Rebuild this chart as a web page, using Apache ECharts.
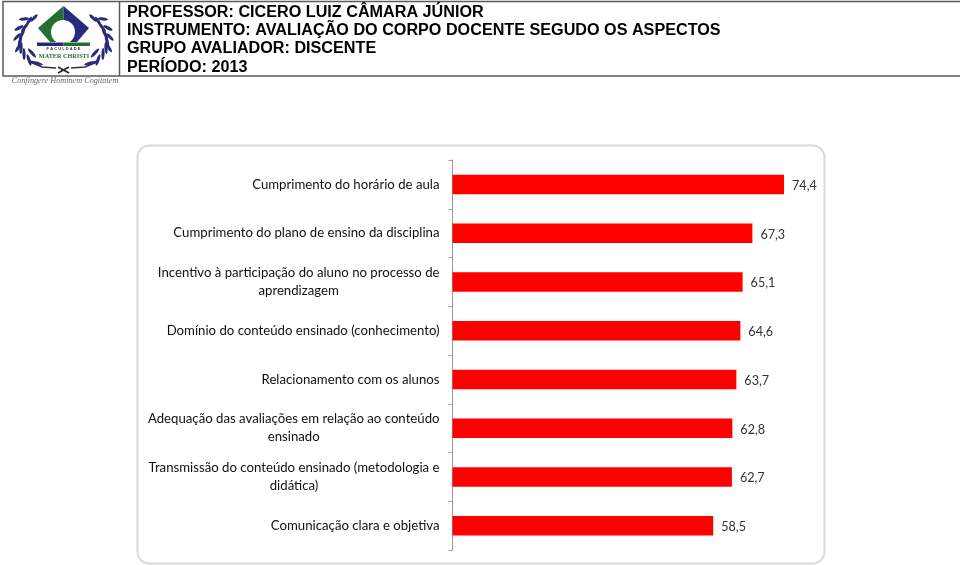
<!DOCTYPE html>
<html><head><meta charset="utf-8">
<style>html,body{margin:0;padding:0;background:#fff}#c{width:960px;height:565px}</style>
<script src="https://cdn.jsdelivr.net/npm/echarts@6/dist/echarts.min.js"></script>
</head><body><div id="c"></div>
<script>
const categories = [
  "Cumprimento do horário de aula",
  "Cumprimento do plano de ensino da disciplina",
  "Incentivo à participação do aluno no processo de\naprendizagem",
  "Domínio do conteúdo ensinado (conhecimento)",
  "Relacionamento com os alunos",
  "Adequação das avaliações em relação ao conteúdo\nensinado",
  "Transmissão do conteúdo ensinado (metodologia e\ndidática)",
  "Comunicação clara e objetiva"
];
const values = [74.4, 67.3, 65.1, 64.6, 63.7, 62.8, 62.7, 58.5];
const headerLines = [
  "PROFESSOR: CICERO LUIZ CÂMARA JÚNIOR",
  "INSTRUMENTO: AVALIAÇÃO DO CORPO DOCENTE SEGUDO OS ASPECTOS",
  "GRUPO AVALIADOR: DISCENTE",
  "PERÍODO: 2013"
];
const headerTop = [12.5, 30.5, 49, 68];
const navy = "#2a2a7c", green = "#23702f";
function leaf(x, y, r, rot) {
  return {type:"ellipse", shape:{cx:0, cy:0, rx:r, ry:1.6}, x:x, y:y, rotation:rot, style:{fill:navy}};
}
const leaves = [];
const L = [
  [34,18,0.8,5],[29,21,1.0,5],[25,27,0.9,6],[22,34,1.1,6],[20,41,1.3,6],[21,48,1.5,6],[24,54,1.6,6],[29,60,1.9,6],
  [24,19,0.1,5],[19,28,0.5,5],[17,37,0.8,5],[18,48,1.0,5],[32,53,2.3,6],[36,63,2.9,7]
];
L.forEach(p => {
  leaves.push(leaf(p[0], p[1], p[3], p[2]));
  leaves.push(leaf(127 - p[0], p[1], p[3], -p[2]));
});
const logo = [
  ...leaves,
  {type:"polygon", shape:{points:[[63.5,6],[38,28],[50,42],[63.5,42]]}, style:{fill:green}},
  {type:"polygon", shape:{points:[[63.5,6],[89,28],[77,42],[63.5,42]]}, style:{fill:navy}},
  {type:"circle", shape:{cx:63,cy:32,r:12}, style:{fill:"#fff"}},
  {type:"rect", shape:{x:37,y:42.5,width:26.5,height:3.5}, style:{fill:navy}},
  {type:"rect", shape:{x:63.5,y:42.5,width:26.5,height:3.5}, style:{fill:green}},
  {type:"text", style:{x:63.5,y:49,text:"F A C U L D A D E",fill:"#333",font:"bold 4px 'Liberation Sans'",align:"center",verticalAlign:"middle"}},
  {type:"rect", shape:{x:38,y:52,width:52,height:9}, style:{fill:"#fff"}},
  {type:"text", style:{x:64,y:56.5,text:"MATER CHRISTI",fill:green,font:"bold 6.2px 'Liberation Serif'",align:"center",verticalAlign:"middle"}},
  {type:"polyline", shape:{points:[[30,62],[42,67],[56,68]]}, style:{stroke:navy,lineWidth:1.6,fill:null}},
  {type:"polyline", shape:{points:[[97,62],[85,67],[71,68]]}, style:{stroke:navy,lineWidth:1.6,fill:null}},
  {type:"line", shape:{x1:58,y1:73,x2:69,y2:67}, style:{stroke:"#222",lineWidth:1.5}},
  {type:"line", shape:{x1:58,y1:67,x2:69,y2:73}, style:{stroke:"#222",lineWidth:1.5}},
  {type:"text", style:{x:65,y:81,text:"Confingere Hominem Cogitatem",fill:"#666",font:"italic 8.2px 'Liberation Serif'",align:"center",verticalAlign:"middle"}}
];
const chart = echarts.init(document.getElementById("c"), null, {renderer:"canvas"});
chart.setOption({
  animation:false,
  backgroundColor:"#fff",
  graphic:{elements:[
    {type:"rect", z:-1, shape:{x:137.5,y:145.5,width:687,height:418,r:12}, style:{fill:"#fff",stroke:"#d9d9d9",lineWidth:2}},
    {type:"rect", shape:{x:3,y:1.5,width:958,height:74.5}, style:{fill:"#fff",stroke:"#5a5a5a",lineWidth:1.5}},
    {type:"line", shape:{x1:119.5,y1:1.5,x2:119.5,y2:76}, style:{stroke:"#5a5a5a",lineWidth:1.5}},
    ...logo,
    ...headerLines.map((t,i)=>({type:"text", style:{x:127,y:headerTop[i],text:t,fill:"#000",font:"bold 16.18px 'Liberation Sans'",verticalAlign:"middle"}}))
  ]},
  grid:{left:452.5, top:160, width:356.5, height:390, containLabel:false},
  xAxis:{type:"value", min:0, max:80, show:false},
  yAxis:{type:"category", inverse:true, data:categories,
    axisLine:{show:true,lineStyle:{color:"#9a9a9a",width:1}},
    axisTick:{show:true,length:4,lineStyle:{color:"#9a9a9a"}},
    axisLabel:{margin:13, fontFamily:"Lato", fontSize:13.2, color:"#111", lineHeight:18,
      formatter:v=>v.split("\n").map(s=>"{c|"+s+"}").join("\n"),
      rich:{c:{align:"center",fontFamily:"Lato",fontSize:13.2,color:"#111",lineHeight:18}}}
  },
  series:[{type:"bar", data:values, barWidth:19.5, itemStyle:{color:"#ff0000"},
    label:{show:true, position:"right", distance:8, offset:[0,1.5], fontFamily:"Lato", fontSize:12.6, color:"#333",
      formatter:p=>String(p.value).replace(".",",")}}]
});
</script></body></html>
